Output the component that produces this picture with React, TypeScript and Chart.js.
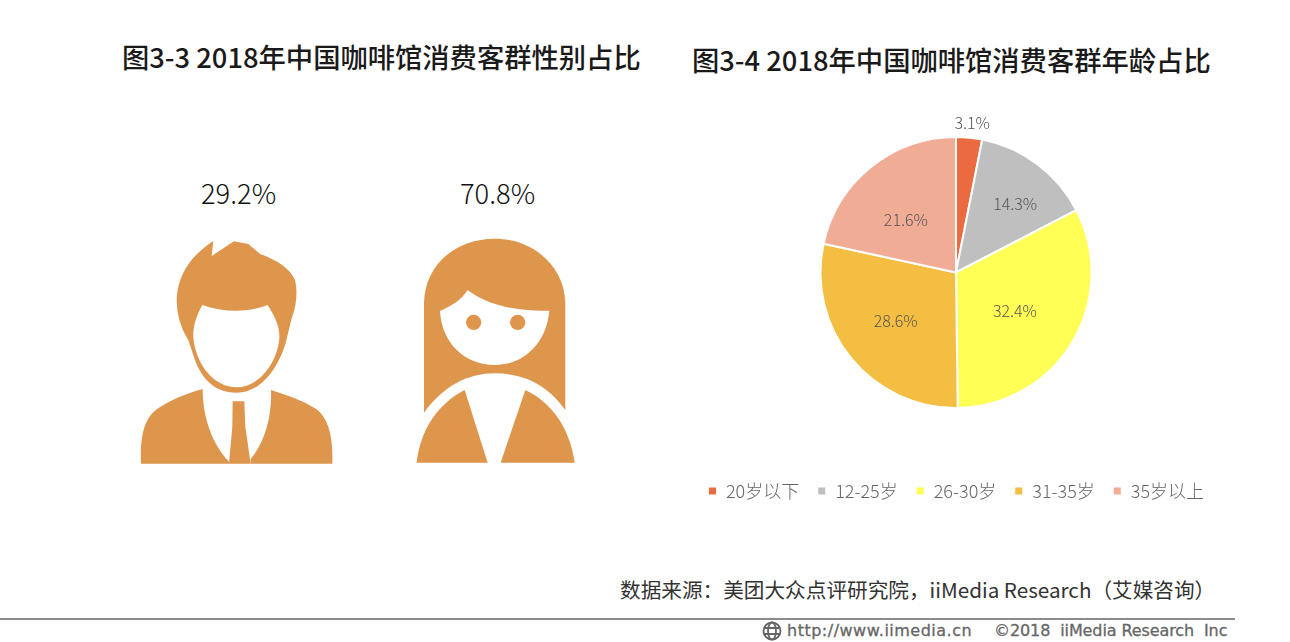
import React, { useEffect, useRef } from "react";
import { Chart, registerables } from "chart.js";

Chart.register(...registerables);

const cjk = '"Noto Sans CJK SC", "Noto Sans", sans-serif';

const ageLabels = ["20岁以下", "12-25岁", "26-30岁", "31-35岁", "35岁以上"];
const ageValues = [3.1, 14.3, 32.4, 28.6, 21.6];
const ageColors = ["#EC6A40", "#BFBFBF", "#FFFF55", "#F4BE42", "#F1AC96"];

const genderValues = [29.2, 70.8];
const titles = ["图3-3 2018年中国咖啡馆消费客群性别占比", "图3-4 2018年中国咖啡馆消费客群年龄占比"];
const sourceText = "数据来源\uFF1A美团大众点评研究院\uFF0CiiMedia Research\uFF08艾媒咨询\uFF09";

// value label placement: distance from the pie centre as a share of the radius,
// and a small turn (radians) away from the middle of the slice
const labelRadius = [1.11, 0.667, 0.52, 0.57, 0.535];
const labelTurn = [0.01, 0.07, 0.04, 0.01, -0.085];

const sliceLabels = {
  id: "sliceLabels",
  afterDatasetsDraw(chart: Chart) {
    const { ctx } = chart;
    const arcs = chart.getDatasetMeta(0).data as any[];
    ctx.save();
    ctx.font = `300 16px ${cjk}`;
    ctx.fillStyle = "#555555";
    ctx.textAlign = "center";
    ctx.textBaseline = "middle";
    arcs.forEach((arc, i) => {
      const mid = (arc.startAngle + arc.endAngle) / 2 + labelTurn[i];
      const r = arc.outerRadius * labelRadius[i];
      ctx.fillText(`${ageValues[i]}%`, arc.x + Math.cos(mid) * r, arc.y + Math.sin(mid) * r);
    });
    ctx.restore();
  },
};

const Text: React.FC<{
  x: number;
  y: number;
  size: number;
  color: string;
  weight?: number;
  font?: string;
  extra?: React.CSSProperties;
  children: React.ReactNode;
}> = ({ x, y, size, color, weight = 400, font = cjk, extra, children }) => (
  <div
    style={{
      position: "absolute",
      left: x,
      top: y - 20,
      height: 40,
      lineHeight: "40px",
      fontSize: size,
      fontWeight: weight,
      fontFamily: font,
      color,
      whiteSpace: "pre",
      ...extra,
    }}
  >
    {children}
  </div>
);

const ManIcon = () => (
  <g transform="translate(120,170) scale(0.3333)" fill="#DE954C">
    <path
      fillRule="evenodd"
      d="M280 213 L275 258 L342 214 L385 222 L420 252 C470 270 510 295 525 330 C532 360 532 400 515 445 L498 515 C480 580 430 668 350 668 C270 668 235 610 215 540 L205 510 C180 470 170 430 170 385 C175 310 215 255 280 213 Z
         M247 405 C310 428 385 428 443 405 C465 440 480 470 478 505 C470 590 410 652 350 652 C285 652 230 590 220 505 C218 470 230 435 247 405 Z"
    />
    <path d="M248 657 C248 740 275 820 327 875 L327 881 L63 881 C60 790 75 745 110 718 C150 690 200 670 248 657 Z" />
    <path d="M453 660 C456 740 435 815 392 868 L392 881 L637 881 C640 800 625 745 590 718 C550 692 500 675 453 660 Z" />
    <path d="M338 694 L373 694 L376 770 L392 881 L327 881 L337 770 Z" />
  </g>
);

const WomanIcon = () => (
  <g transform="translate(400,170) scale(0.3333)" fill="#DE954C">
    <path
      fillRule="evenodd"
      d="M72 728 L72 400 C75 280 170 206 284 206 C400 206 495 290 496 400 L496 720 C440 640 365 610 285 610 C200 610 130 650 72 728 Z
         M120 423 C150 410 185 390 203 360 C260 405 350 425 448 422 C440 520 370 585 285 585 C195 585 125 520 120 423 Z"
    />
    <circle cx="221" cy="457" r="23" />
    <circle cx="353" cy="457" r="23" />
    <path d="M194 660 L263 878 L50 878 C60 780 115 700 194 660 Z" />
    <path d="M376 660 L302 878 L524 878 C510 780 460 700 376 660 Z" />
  </g>
);

const GlobeIcon = () => (
  <g fill="none" stroke="#666" strokeWidth="1.8">
    <circle cx="772" cy="631" r="8.5" />
    <ellipse cx="772" cy="631" rx="4" ry="8.5" />
    <path d="M764 628 H780 M764 634 H780" />
  </g>
);

export default function App() {
  const canvasRef = useRef<HTMLCanvasElement | null>(null);

  useEffect(() => {
    if (!canvasRef.current) return;
    const chart = new Chart(canvasRef.current, {
      type: "pie",
      data: {
        labels: ageLabels,
        datasets: [
          {
            data: ageValues,
            backgroundColor: ageColors,
            borderColor: "#ffffff",
            borderWidth: 2,
            hoverOffset: 0,
          },
        ],
      },
      options: {
        responsive: false,
        animation: false,
        layout: { padding: { top: 36, left: 0, right: 0, bottom: 0 } },
        plugins: {
          tooltip: { enabled: false },
          legend: {
            position: "bottom",
            title: { display: true, text: " ", padding: { top: 37, bottom: 0 }, font: { size: 15 } },
            labels: {
              boxWidth: 9,
              boxHeight: 9,
              padding: 18,
              color: "#666666",
              font: { size: 18, family: cjk, weight: "300" },
            },
          },
        },
      },
      plugins: [sliceLabels],
    });
    return () => chart.destroy();
  }, []);

  const footerStroke = { WebkitTextStroke: "0.3px #666" };

  return (
    <div style={{ position: "absolute", left: 0, top: 0, width: 1290, height: 642, background: "#fff", overflow: "hidden" }}>
      <Text x={122} y={56} size={27.3} weight={500} color="#1a1a1a">{titles[0]}</Text>
      <Text x={692} y={59} size={27.3} weight={500} color="#1a1a1a">{titles[1]}</Text>
      <Text x={201} y={192} size={27.3} weight={300} color="#111">{genderValues[0]}%</Text>
      <Text x={460} y={192} size={27.3} weight={300} color="#111">{genderValues[1]}%</Text>
      <svg width={1290} height={642} style={{ position: "absolute", left: 0, top: 0 }}>
        <ManIcon />
        <WomanIcon />
        <GlobeIcon />
        <rect x={0} y={618} width={1235} height={2} fill="#8c8c8c" />
      </svg>
      <canvas
        ref={canvasRef}
        width={592}
        height={410}
        style={{ position: "absolute", left: 660, top: 100 }}
      />
      <Text x={620} y={589} size={20.65} color="#333">{sourceText}</Text>
      <Text x={787} y={631} size={16} color="#666" font='"DejaVu Sans", sans-serif' extra={{ ...footerStroke, letterSpacing: 0.5 }}>http://www.iimedia.cn</Text>
      <Text x={994} y={631} size={16} color="#666" font='"DejaVu Sans", sans-serif' extra={{ ...footerStroke, letterSpacing: -0.1 }}>©2018  iiMedia Research  Inc</Text>
    </div>
  );
}
